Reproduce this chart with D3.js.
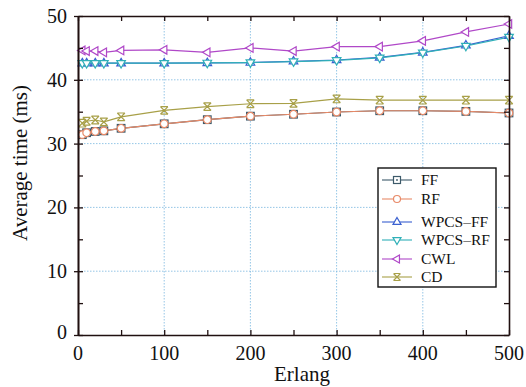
<!DOCTYPE html>
<html><head><meta charset="utf-8">
<script src="https://cdn.jsdelivr.net/npm/d3@7"></script>
<style>body{margin:0;background:#fff}svg{display:block}</style>
</head><body>
<svg id="c" width="526" height="387"></svg>
<script>
const erlang = [5,10,20,30,50,100,150,200,250,300,350,400,450,500];
const ff     = [31.4,31.7,31.9,32.0,32.4,33.1,33.75,34.3,34.6,34.95,35.15,35.15,35.05,34.8];
const rf     = [31.4,31.7,31.9,32.0,32.4,33.1,33.75,34.3,34.6,34.95,35.15,35.15,35.05,34.8];
const wpcsFF = [42.6,42.6,42.6,42.6,42.6,42.6,42.65,42.7,42.9,43.1,43.5,44.3,45.4,46.9];
const wpcsRF = [42.6,42.6,42.6,42.6,42.6,42.6,42.65,42.7,42.85,43.05,43.45,44.25,45.3,46.7];
const cwl    = [44.6,44.5,44.5,44.3,44.6,44.7,44.3,45.0,44.5,45.2,45.2,46.1,47.5,48.75];
const cd     = [33.2,33.5,33.7,33.4,34.2,35.2,35.8,36.25,36.3,37.0,36.8,36.8,36.8,36.8];
const xTicks = [0,100,200,300,400,500];
const yTicks = [0,10,20,30,40,50];
const seriesNames = ["FF","RF","WPCS\u2013FF","WPCS\u2013RF","CWL","CD"];

const series = [
  {name:seriesNames[0], v:ff, color:"#3d5a6a", sym:"square"},
  {name:seriesNames[1], v:rf, color:"#e88a68", sym:"circle"},
  {name:seriesNames[2], v:wpcsFF, color:"#3a60d0", sym:"up"},
  {name:seriesNames[3], v:wpcsRF, color:"#30b0b8", sym:"down"},
  {name:seriesNames[4], v:cwl, color:"#b048c8", sym:"left"},
  {name:seriesNames[5], v:cd, color:"#a8a048", sym:"x"}
];

const svg = d3.select("#c");
const L=78, R=509, T=16, B=335;
const x = d3.scaleLinear().domain([0,500]).range([L,R]);
const y = d3.scaleLinear().domain([0,50]).range([B,T]);
const font = "'Liberation Serif','DejaVu Serif',serif";

// grid
const g = svg.append("g");
g.selectAll(".gx").data(xTicks.slice(1,-1)).enter().append("line")
  .attr("x1",d=>x(d)).attr("x2",d=>x(d)).attr("y1",T).attr("y2",B)
  .attr("stroke","#7ab8e0").attr("stroke-width",0.8).attr("stroke-dasharray","1.5,1.5");
g.selectAll(".gy").data(yTicks.slice(1,-1)).enter().append("line")
  .attr("y1",d=>y(d)).attr("y2",d=>y(d)).attr("x1",L).attr("x2",R)
  .attr("stroke","#7ab8e0").attr("stroke-width",0.8).attr("stroke-dasharray","1.5,1.5");

// axes with inward ticks
const xMinor = d3.range(0,501,50), yMinor = d3.range(0,51,5);
function axes(){
  const ax = svg.append("g");
  ax.append("g").attr("transform",`translate(0,${B})`)
    .call(d3.axisBottom(x).tickValues(xMinor).tickSizeInner(-5).tickSizeOuter(0).tickFormat(""));
  ax.append("g").attr("transform",`translate(0,${T})`)
    .call(d3.axisTop(x).tickValues(xMinor).tickSizeInner(-5).tickSizeOuter(0).tickFormat(""));
  ax.append("g").attr("transform",`translate(${L},0)`)
    .call(d3.axisLeft(y).tickValues(yMinor).tickSizeInner(-5).tickSizeOuter(0).tickFormat(""));
  ax.append("g").attr("transform",`translate(${L},0)`)
    .call(d3.axisLeft(y).tickValues(yTicks).tickSizeInner(4).tickSizeOuter(0).tickFormat(""));
  ax.append("g").attr("transform",`translate(${R},0)`)
    .call(d3.axisRight(y).tickValues(yMinor).tickSizeInner(-5).tickSizeOuter(0).tickFormat(""));
  ax.selectAll("path.domain").attr("stroke","#201010").attr("stroke-width",1.6);
  ax.selectAll(".tick line").attr("stroke","#201010").attr("stroke-width",1.3);
  // labels
  ax.selectAll(".xl").data(xTicks).enter().append("text")
    .attr("x",d=>x(d)).attr("y",B+25).attr("text-anchor","middle")
    .attr("font-family",font).attr("font-size",20).attr("fill","#111").text(d=>d);
  ax.selectAll(".yl").data(yTicks).enter().append("text")
    .attr("x",L-11).attr("y",d=>y(d)+(d===0?4:7)).attr("text-anchor","end")
    .attr("font-family",font).attr("font-size",20).attr("fill","#111").text(d=>d);
}

function marker(sel, sym, color, s){
  s = s||4;
  sel.each(function(){
    const m = d3.select(this);
    const st = {fill:"#fff", stroke:color, "stroke-width":1.2};
    let el;
    if(sym==="square"){
      el = m.append("rect").attr("x",-s).attr("y",-s).attr("width",2*s).attr("height",2*s);
      Object.entries(st).forEach(([k,v])=>el.attr(k,v));
      m.append("circle").attr("r",0.9).attr("fill",color);
    } else if(sym==="circle"){
      el = m.append("circle").attr("r",s);
      Object.entries(st).forEach(([k,v])=>el.attr(k,v));
    } else {
      let pts;
      if(sym==="up") pts=[[0,-s-1],[s+0.5,s*0.7],[-s-0.5,s*0.7]];
      if(sym==="down") pts=[[0,s+1],[s+0.5,-s*0.7],[-s-0.5,-s*0.7]];
      if(sym==="left") pts=[[-s-1,0],[s*0.7,-s-0.5],[s*0.7,s+0.5]];
      if(sym==="x"){
        m.append("path").attr("d",`M${-s},${-s}L${s},${s}M${-s},${s}L${s},${-s}M${-s},${-s}L${s},${-s}M${-s},${s}L${s},${s}`)
          .attr("stroke",color).attr("stroke-width",1.2).attr("fill","none");
        return;
      }
      el = m.append("path").attr("d","M"+pts.map(p=>p.join(",")).join("L")+"Z");
      Object.entries(st).forEach(([k,v])=>el.attr(k,v));
    }
  });
}

const line = d3.line().x((d,i)=>x(erlang[i])).y(d=>y(d));
series.forEach(s=>{
  svg.append("path").datum(s.v).attr("d",line).attr("fill","none")
    .attr("stroke",s.color).attr("stroke-width",1.2);
});
series.forEach(s=>{
  svg.append("g").selectAll("g").data(s.v).enter().append("g")
    .attr("transform",(d,i)=>`translate(${x(erlang[i])},${y(d)})`)
    .call(sel=>marker(sel,s.sym,s.color,3.8));
});

axes();

// axis titles
svg.append("text").attr("x",302).attr("y",381).attr("text-anchor","middle")
  .attr("font-family",font).attr("font-size",21).attr("fill","#111").text("Erlang");
svg.append("text").attr("transform",`translate(27,163) rotate(-90)`).attr("text-anchor","middle")
  .attr("font-family",font).attr("font-size",21).attr("fill","#111").text("Average time (ms)");

// legend
const lg = svg.append("g");
lg.append("rect").attr("x",378).attr("y",168).attr("width",118).attr("height",119)
  .attr("fill","#fff").attr("stroke","#111").attr("stroke-width",1.4);
const rows = [180,199,222,240,259,277];
series.forEach((s,i)=>{
  const yy = rows[i];
  lg.append("line").attr("x1",382).attr("x2",412).attr("y1",yy).attr("y2",yy)
    .attr("stroke",s.color).attr("stroke-width",1.1);
  lg.append("g").attr("transform",`translate(397,${yy})`).call(sel=>marker(sel,s.sym,s.color,3.5));
  lg.append("text").attr("x",421).attr("y",yy+5).attr("font-family",font).attr("font-size",15.5)
    .attr("fill","#111").text(s.name);
});
</script>
</body></html>
